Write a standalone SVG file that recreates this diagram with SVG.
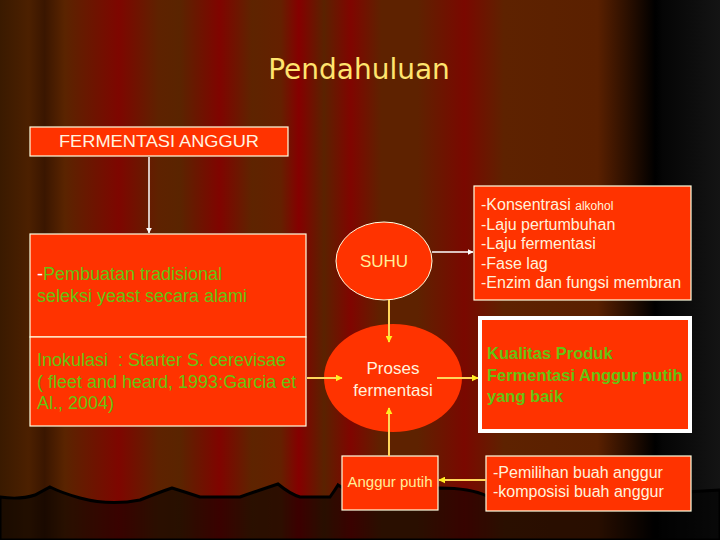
<svg xmlns="http://www.w3.org/2000/svg" width="720" height="540" viewBox="0 0 720 540">
<defs>
<linearGradient id="curtain" x1="0" y1="0" x2="720" y2="0" gradientUnits="userSpaceOnUse">
<stop offset="0" stop-color="#3a1a00"/>
<stop offset="0.04" stop-color="#4c2000"/>
<stop offset="0.062" stop-color="#3a1600"/>
<stop offset="0.09" stop-color="#5a2400"/>
<stop offset="0.165" stop-color="#7e0600"/>
<stop offset="0.22" stop-color="#5e2200"/>
<stop offset="0.25" stop-color="#5a2400"/>
<stop offset="0.305" stop-color="#800400"/>
<stop offset="0.35" stop-color="#5e2400"/>
<stop offset="0.39" stop-color="#642000"/>
<stop offset="0.415" stop-color="#850000"/>
<stop offset="0.45" stop-color="#5a2200"/>
<stop offset="0.487" stop-color="#800500"/>
<stop offset="0.53" stop-color="#5e2200"/>
<stop offset="0.58" stop-color="#5e2200"/>
<stop offset="0.645" stop-color="#7a0800"/>
<stop offset="0.70" stop-color="#5e2200"/>
<stop offset="0.83" stop-color="#5a2000"/>
<stop offset="0.91" stop-color="#000000"/>
<stop offset="0.92" stop-color="#050505"/>
<stop offset="1" stop-color="#141414"/>
</linearGradient>
<marker id="aw" viewBox="0 0 10 10" refX="9" refY="5" markerWidth="6" markerHeight="6" markerUnits="userSpaceOnUse" orient="auto">
<path d="M0,0 L10,5 L0,10 z" fill="#ffffff"/>
</marker>
<marker id="ay" viewBox="0 0 10 10" refX="9" refY="5" markerWidth="7" markerHeight="7" markerUnits="userSpaceOnUse" orient="auto">
<path d="M0,0 L10,5 L0,10 z" fill="#ffee22"/>
</marker>
</defs>
<style>
.box{fill:#ff3300;stroke:#ffffe0;stroke-width:1.2}
.sans{font-family:"Liberation Sans",Arial,sans-serif}
.green{fill:#66c211}
.light{fill:#fff2dc}
.wl{stroke:#ffffff;stroke-width:1.5;fill:none}
.yl{stroke:#ffd65a;stroke-width:2;fill:none}
</style>
<rect x="0" y="0" width="720" height="540" fill="url(#curtain)"/>
<path d="M0,497 Q20,500 35,495 L50,487 Q62,493 80,498 Q110,506 140,500 Q160,492 172,488 Q185,492 200,497 L240,497 Q260,490 278,484 Q290,494 300,497 L330,497 Q335,490 338,485 Q345,490 360,492 L440,488 Q470,488 487,496 L600,496 Q660,494 720,490 L720,540 L0,540 Z" fill="#000000" fill-opacity="0.55" stroke="#000000" stroke-width="3"/>
<text x="359" y="79" text-anchor="middle" font-family="DejaVu Sans, sans-serif" font-size="28" fill="#ffe46e">Pendahuluan</text>
<g id="fermentasi-anggur">
<rect class="box" x="30" y="127" width="258" height="29"/>
<text class="sans" x="59" y="147" font-size="17" textLength="200" lengthAdjust="spacingAndGlyphs" fill="#fff4e0">FERMENTASI ANGGUR</text>
</g>
<g id="pembuatan">
<rect class="box" x="30" y="234" width="276" height="103"/>
<text class="sans" x="37" y="280" font-size="18"><tspan fill="#ffffff">-</tspan><tspan class="green">Pembuatan tradisional</tspan></text>
<text class="sans green" x="37" y="302" font-size="18">seleksi yeast secara alami</text>
</g>
<g id="inokulasi">
<rect class="box" x="30" y="337" width="276" height="89"/>
<text class="sans green" x="37" y="366" font-size="18" style="white-space:pre">Inokulasi  : Starter S. cerevisae</text>
<text class="sans green" x="37" y="388" font-size="18">( fleet and heard, 1993:Garcia et</text>
<text class="sans green" x="37" y="409" font-size="18">Al., 2004)</text>
</g>
<g id="suhu">
<ellipse cx="384" cy="261" rx="48" ry="39" fill="#ff3300" stroke="#ffffe0" stroke-width="1"/>
<text class="sans" x="384" y="267" text-anchor="middle" font-size="17" fill="#ffee99">SUHU</text>
</g>
<g id="konsentrasi">
<rect class="box" x="474" y="186" width="217" height="114"/>
<g class="sans light" font-size="16">
<text x="481" y="210">-Konsentrasi <tspan font-size="12">alkohol</tspan></text>
<text x="481" y="230">-Laju pertumbuhan</text>
<text x="481" y="249">-Laju fermentasi</text>
<text x="481" y="269">-Fase lag</text>
<text x="481" y="288">-Enzim dan fungsi membran</text>
</g>
</g>
<g id="proses">
<ellipse cx="393" cy="378" rx="69" ry="54" fill="#ff3300"/>
<text class="sans light" x="393" y="374" text-anchor="middle" font-size="17">Proses</text>
<text class="sans light" x="393" y="396" text-anchor="middle" font-size="17">fermentasi</text>
</g>
<g id="kualitas">
<rect x="480" y="318" width="210" height="113" fill="#ff3300" stroke="#ffffff" stroke-width="4"/>
<g class="sans green" font-size="16.5" font-weight="bold">
<text x="487" y="359">Kualitas Produk</text>
<text x="487" y="381">Fermentasi Anggur putih</text>
<text x="487" y="402">yang baik</text>
</g>
</g>
<g id="anggur-putih">
<rect class="box" x="342" y="456" width="96" height="54"/>
<text class="sans" x="390" y="487" text-anchor="middle" font-size="15" fill="#ffee99">Anggur putih</text>
</g>
<g id="pemilihan">
<rect class="box" x="486" y="456" width="205" height="55"/>
<text class="sans light" x="493" y="478" font-size="16">-Pemilihan buah anggur</text>
<text class="sans light" x="493" y="497" font-size="16">-komposisi buah anggur</text>
</g>
<g id="connectors">
<line class="wl" x1="149" y1="157" x2="149" y2="233" marker-end="url(#aw)"/>
<line class="wl" x1="432" y1="252" x2="473" y2="252" marker-end="url(#aw)"/>
<line class="yl" x1="389" y1="300" x2="389" y2="342" marker-end="url(#ay)"/>
<line class="yl" x1="389" y1="456" x2="389" y2="408" marker-end="url(#ay)"/>
<line class="yl" x1="307" y1="378" x2="342" y2="378" marker-end="url(#ay)"/>
<line class="yl" x1="437" y1="378" x2="478" y2="378" marker-end="url(#ay)"/>
<line class="yl" x1="486" y1="480" x2="439" y2="480" marker-end="url(#ay)"/>
</g>
</svg>
